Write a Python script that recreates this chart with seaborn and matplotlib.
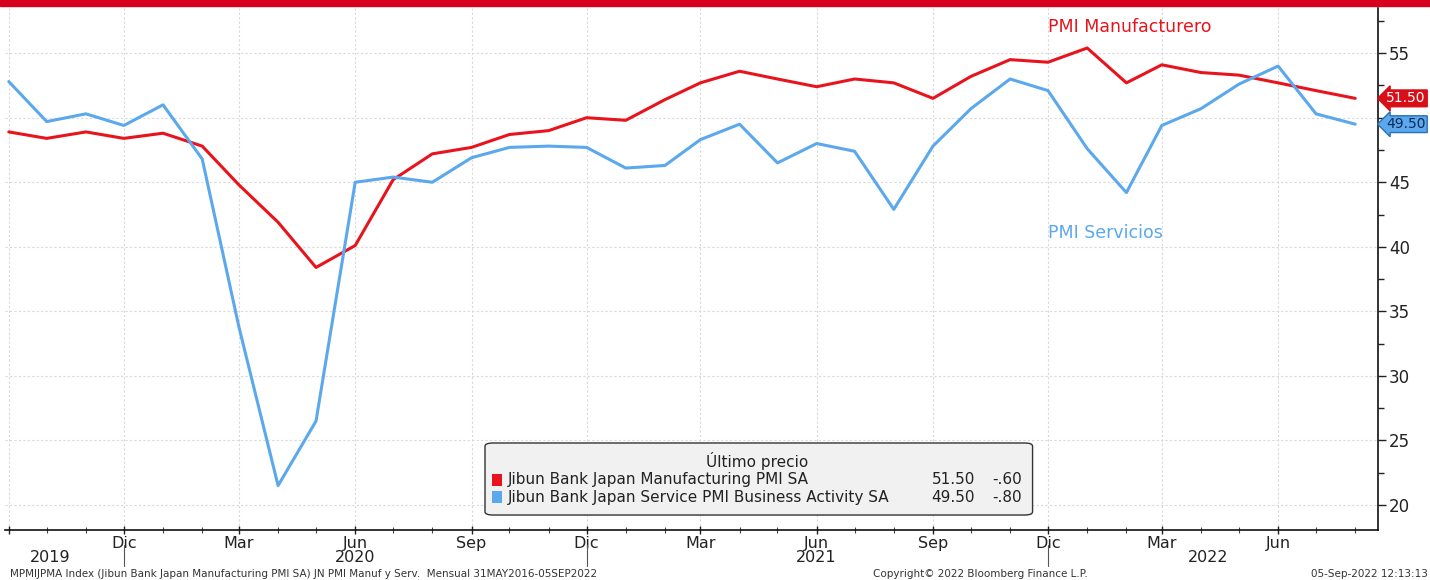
import matplotlib
matplotlib.use('Agg')
import pandas as pd
import matplotlib.pyplot as plt
import matplotlib.dates as mdates
from matplotlib.patches import FancyBboxPatch, Rectangle
from matplotlib.ticker import MultipleLocator
import seaborn as sns

# datos mensuales sep-2019 .. ago-2022
meses = pd.date_range('2019-09-01', periods=36, freq='MS')
pmi_manuf = [48.9, 48.4, 48.9, 48.4, 48.8, 47.8, 44.8, 41.9, 38.4, 40.1, 45.2, 47.2,
             47.7, 48.7, 49.0, 50.0, 49.8, 51.4, 52.7, 53.6, 53.0, 52.4, 53.0, 52.7,
             51.5, 53.2, 54.5, 54.3, 55.4, 52.7, 54.1, 53.5, 53.3, 52.7, 52.1, 51.5]
pmi_serv = [52.8, 49.7, 50.3, 49.4, 51.0, 46.8, 33.8, 21.5, 26.5, 45.0, 45.4, 45.0,
            46.9, 47.7, 47.8, 47.7, 46.1, 46.3, 48.3, 49.5, 46.5, 48.0, 47.4, 42.9,
            47.8, 50.7, 53.0, 52.1, 47.6, 44.2, 49.4, 50.7, 52.6, 54.0, 50.3, 49.5]

tick_fechas = ['2019-09-01', '2019-12-01', '2020-03-01', '2020-06-01', '2020-09-01',
               '2020-12-01', '2021-03-01', '2021-06-01', '2021-09-01', '2021-12-01',
               '2022-03-01', '2022-06-01']
tick_etiquetas = ['', 'Dic', 'Mar', 'Jun', 'Sep', 'Dic', 'Mar', 'Jun', 'Sep', 'Dic', 'Mar', 'Jun']
y_ticks = [20, 25, 30, 35, 40, 45, 50, 55]
y_etiquetas = ['20', '25', '30', '35', '40', '45', '', '55']  # 50 queda tapado por las etiquetas
anios = ['2019', '2020', '2021', '2022']
anios_pos = ['2019-10-04', '2020-06-01', '2021-06-01', '2022-04-07']
separadores = ['2019-12-01', '2020-12-01', '2021-12-01']

nombres = ['Jibun Bank Japan Manufacturing PMI SA',
           'Jibun Bank Japan Service PMI Business Activity SA']
ultimo = ['51.50', '49.50']
cambio = ['-.60', '-.80']

ROJO = '#e8131c'
AZUL = '#5ba8ec'

df = pd.DataFrame({'fecha': list(meses) * 2,
                   'valor': pmi_manuf + pmi_serv,
                   'serie': ['manuf'] * 36 + ['serv'] * 36})

sns.set_theme(style='white')
plt.rcParams['font.family'] = ['DejaVu Sans']

fig = plt.figure(figsize=(14.3, 5.8), dpi=100)
ax = fig.add_axes([5 / 1430, 1 - 530 / 580, 1373 / 1430, 522 / 580])

sns.lineplot(data=df, x='fecha', y='valor', hue='serie',
             palette={'manuf': ROJO, 'serv': AZUL}, linewidth=2.2,
             legend=False, ax=ax)

# barra roja superior
fig.patches.append(Rectangle((0, 1 - 6 / 580), 1, 6 / 580, transform=fig.transFigure,
                             color='#d6001c', zorder=5))

ax.set_xlim(pd.Timestamp('2019-08-29'), pd.Timestamp('2022-08-19'))
ax.set_ylim(18.06, 58.5)
ax.set_xlabel('')
ax.set_ylabel('')

# eje y a la derecha
ax.yaxis.tick_right()
ax.yaxis.set_minor_locator(MultipleLocator(2.5))
ax.set_yticks(y_ticks)
ax.set_yticklabels(y_etiquetas)
ax.tick_params(axis='y', which='major', direction='out', length=6, width=1,
               labelsize=12, colors='#222222', pad=2, right=True, left=False)
ax.tick_params(axis='y', which='minor', direction='out', length=4, width=1,
               right=True, left=False, colors='#222222')

# eje x
ax.set_xticks(pd.to_datetime(tick_fechas))
ax.set_xticklabels(tick_etiquetas)
ax.xaxis.set_minor_locator(mdates.MonthLocator())
ax.tick_params(axis='x', which='major', direction='inout', length=6, width=1,
               labelsize=11.5, colors='#222222', pad=1, bottom=True)
ax.tick_params(axis='x', which='minor', direction='inout', length=5, width=0.8,
               bottom=True, colors='#444444')

for s in ['top', 'left']:
    ax.spines[s].set_visible(False)
for s in ['right', 'bottom']:
    ax.spines[s].set_color('#111111')
    ax.spines[s].set_linewidth(1.2)

ax.grid(True, which='major', color='#d9d9d9', linestyle=(0, (2, 2)), linewidth=0.8)
ax.set_axisbelow(True)

# años y separadores
for a, p in zip(anios, anios_pos):
    ax.text(pd.Timestamp(p), -0.052, a, transform=ax.get_xaxis_transform(),
            ha='center', va='center', fontsize=11.5, color='#222222')
for s in separadores:
    ax.plot([pd.Timestamp(s)] * 2, [-0.029, -0.069], transform=ax.get_xaxis_transform(),
            color='#555555', lw=0.8, clip_on=False)

# rótulos de series
ax.text(pd.Timestamp('2021-12-01'), 57.0, 'PMI Manufacturero', color=ROJO,
        fontsize=12.5, ha='left', va='center')
ax.text(pd.Timestamp('2021-12-01'), 41.1, 'PMI Servicios', color=AZUL,
        fontsize=12.5, ha='left', va='center')

# etiquetas de último valor
ax.annotate(ultimo[0], xy=(1.0, pmi_manuf[-1]), xycoords=('axes fraction', 'data'),
            xytext=(6, 0), textcoords='offset points', ha='left', va='center',
            fontsize=10, color='white', annotation_clip=False,
            bbox=dict(boxstyle='larrow,pad=0.1', fc='#d90f17', ec='#d90f17'))
ax.annotate(ultimo[1], xy=(1.0, pmi_serv[-1]), xycoords=('axes fraction', 'data'),
            xytext=(6, 0), textcoords='offset points', ha='left', va='center',
            fontsize=10, color='#0b2a5a', annotation_clip=False,
            bbox=dict(boxstyle='larrow,pad=0.1', fc='#5ba8ec', ec='#2f6fb5'))

# cuadro de leyenda
caja = FancyBboxPatch((0.3496, 0.0287), 0.3988, 0.138, transform=ax.transAxes,
                      boxstyle='round,pad=0,rounding_size=0.006', fc='#f1f1f1',
                      ec='#333333', lw=1.0, zorder=6)
ax.add_patch(caja)
ax.text(0.548, 0.132, 'Último precio', transform=ax.transAxes, ha='center', va='center',
        fontsize=11, color='#222222', zorder=7)
for i, (nom, col) in enumerate(zip(nombres, [ROJO, AZUL])):
    yy = 0.0958 - i * 0.0326
    ax.add_patch(Rectangle((0.3545, yy - 0.012), 0.0075, 0.024, transform=ax.transAxes,
                           fc=col, ec='none', zorder=7))
    ax.text(0.3665, yy, nom, transform=ax.transAxes, ha='left', va='center',
            fontsize=11, color='#222222', zorder=7)
    ax.text(0.7065, yy, ultimo[i], transform=ax.transAxes, ha='right', va='center',
            fontsize=11, color='#222222', zorder=7)
    ax.text(0.7407, yy, cambio[i], transform=ax.transAxes, ha='right', va='center',
            fontsize=11, color='#222222', zorder=7)

# pie
fig.text(10 / 1430, 0.0095, 'MPMIJPMA Index (Jibun Bank Japan Manufacturing PMI SA) JN PMI Manuf y Serv.  '
         'Mensual 31MAY2016-05SEP2022', fontsize=7.5, color='#333333', ha='left', va='center')
fig.text(873 / 1430, 0.0095, 'Copyright© 2022 Bloomberg Finance L.P.', fontsize=7.5,
         color='#333333', ha='left', va='center')
fig.text(1428 / 1430, 0.0095, '05-Sep-2022 12:13:13', fontsize=7.5, color='#333333',
         ha='right', va='center')

fig.savefig('out.png', dpi=100)
